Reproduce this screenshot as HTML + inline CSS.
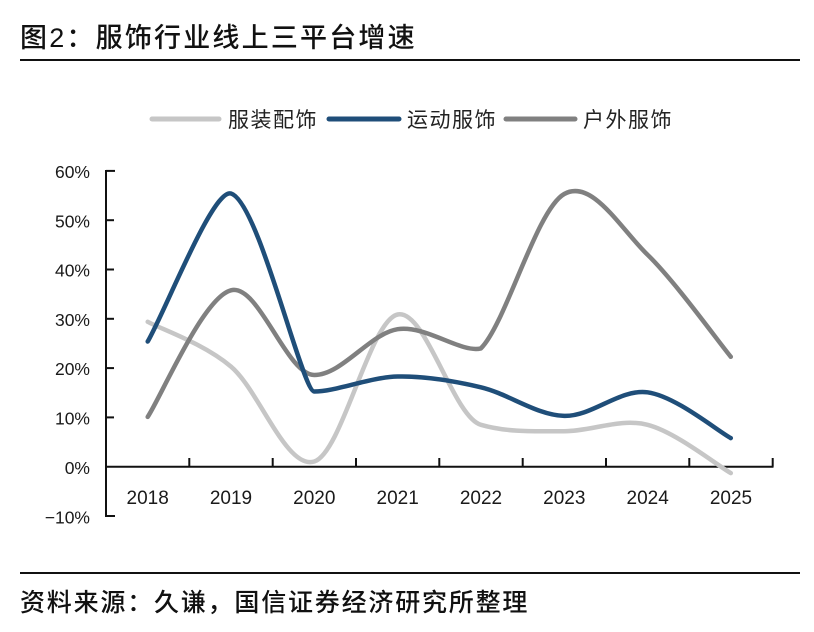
<!DOCTYPE html>
<html>
<head>
<meta charset="utf-8">
<style>
  html, body { margin: 0; padding: 0; background: #ffffff; }
  body { width: 814px; height: 632px; overflow: hidden; }
  svg { display: block; }
  .cjk { font-family: "Liberation Sans", "Noto Sans CJK SC", "WenQuanYi Zen Hei", sans-serif; }
  .num { font-family: "Liberation Sans", sans-serif; fill: #1a1a1a; }
</style>
</head>
<body>
<svg width="814" height="632" viewBox="0 0 814 632" xmlns="http://www.w3.org/2000/svg">
  <rect x="0" y="0" width="814" height="632" fill="#ffffff"/>

  <!-- Title -->
  <text class="cjk" x="20" y="47" font-size="27" font-weight="500" letter-spacing="2.2" fill="#111">图2：服饰行业线上三平台增速</text>
  <line x1="20" y1="60" x2="800" y2="60" stroke="#111" stroke-width="2"/>

  <!-- Legend -->
  <line x1="152" y1="119" x2="219" y2="119" stroke="#c6c6c6" stroke-width="5" stroke-linecap="round"/>
  <text class="cjk" x="228" y="127" font-size="21" letter-spacing="1.5" fill="#222">服装配饰</text>
  <line x1="329" y1="119" x2="399" y2="119" stroke="#1f4e79" stroke-width="5" stroke-linecap="round"/>
  <text class="cjk" x="407" y="127" font-size="21" letter-spacing="1.5" fill="#222">运动服饰</text>
  <line x1="506" y1="119" x2="575" y2="119" stroke="#808080" stroke-width="5" stroke-linecap="round"/>
  <text class="cjk" x="583" y="127" font-size="21" letter-spacing="1.5" fill="#222">户外服饰</text>

  <!-- Y axis -->
  <line x1="106" y1="170" x2="106" y2="517" stroke="#111" stroke-width="2"/>
  <g stroke="#111" stroke-width="2">
    <line x1="106" y1="170.9" x2="115" y2="170.9"/>
    <line x1="106" y1="220.2" x2="114" y2="220.2"/>
    <line x1="106" y1="269.5" x2="114" y2="269.5"/>
    <line x1="106" y1="318.8" x2="114" y2="318.8"/>
    <line x1="106" y1="368.1" x2="114" y2="368.1"/>
    <line x1="106" y1="417.4" x2="114" y2="417.4"/>
    <line x1="106" y1="516" x2="115" y2="516"/>
  </g>
  <g class="num" font-size="17.5" text-anchor="end">
    <text x="90" y="178">60%</text>
    <text x="90" y="227.3">50%</text>
    <text x="90" y="276.6">40%</text>
    <text x="90" y="325.9">30%</text>
    <text x="90" y="375.2">20%</text>
    <text x="90" y="424.5">10%</text>
    <text x="90" y="473.8">0%</text>
    <text x="90" y="523.3">−10%</text>
  </g>

  <!-- X axis -->
  <line x1="106" y1="466.7" x2="773.5" y2="466.7" stroke="#111" stroke-width="2"/>
  <g stroke="#111" stroke-width="2">
    <line x1="189.3" y1="458" x2="189.3" y2="466.7"/>
    <line x1="272.7" y1="458" x2="272.7" y2="466.7"/>
    <line x1="356" y1="458" x2="356" y2="466.7"/>
    <line x1="439.3" y1="458" x2="439.3" y2="466.7"/>
    <line x1="522.7" y1="458" x2="522.7" y2="466.7"/>
    <line x1="606" y1="458" x2="606" y2="466.7"/>
    <line x1="689.3" y1="458" x2="689.3" y2="466.7"/>
    <line x1="772.7" y1="458" x2="772.7" y2="466.7"/>
  </g>
  <g class="num" font-size="19" text-anchor="middle">
    <text x="147.7" y="504">2018</text>
    <text x="231" y="504">2019</text>
    <text x="314.3" y="504">2020</text>
    <text x="397.7" y="504">2021</text>
    <text x="481" y="504">2022</text>
    <text x="564.3" y="504">2023</text>
    <text x="647.7" y="504">2024</text>
    <text x="731" y="504">2025</text>
  </g>

  <!-- Series -->
  <g fill="none" stroke-width="4.5" stroke-linecap="round" stroke-linejoin="round">
    <!-- 服装配饰 -->
    <path stroke="#c6c6c6" d="M147.7,321.8 C161.6,329.3 203.2,343.3 231,366.6 C258.8,389.9 286.5,470.2 314.3,461.5 C342,452.8 369.8,320.6 397.6,314.5 C425.4,308.4 453.1,416.8 480.9,424.8 C508.7,432.8 536.4,431.2 564.2,431.2 C592,431.2 619.7,417.8 647.5,424.8 C675.3,431.8 716.9,465.1 730.8,473.1"/>
    <!-- 户外服饰 -->
    <path stroke="#808080" d="M147.7,416.9 C161.6,395.8 203.2,297.3 231,290.3 C258.8,283.3 286.5,375 314.3,375 C342,375 369.8,333.6 397.6,329.2 C425.4,324.8 461,353.4 480.9,348.4 C506,323.4 536.4,209.6 564.2,194 C592,178.4 619.7,227.6 647.5,254.7 C675.3,281.8 716.9,339.8 730.8,356.8"/>
    <!-- 运动服饰 -->
    <path stroke="#1f4e79" d="M147.7,341.5 C165,312 213,188.1 231,193.5 C258.8,201.8 302,391.5 314.3,391.5 C336,391.5 369.8,377.2 397.6,376.5 C425.4,375.8 453.1,380.7 480.9,387.3 C508.7,393.9 536.4,415.1 564.2,415.9 C592,416.7 619.7,388.6 647.5,392.3 C675.3,396 716.9,430.5 730.8,438.1"/>
  </g>

  <!-- Footer -->
  <line x1="20" y1="573" x2="800" y2="573" stroke="#111" stroke-width="2"/>
  <text class="cjk" x="20" y="611" font-size="25" font-weight="500" letter-spacing="1.8" fill="#111">资料来源：久谦，国信证券经济研究所整理</text>
</svg>
</body>
</html>
